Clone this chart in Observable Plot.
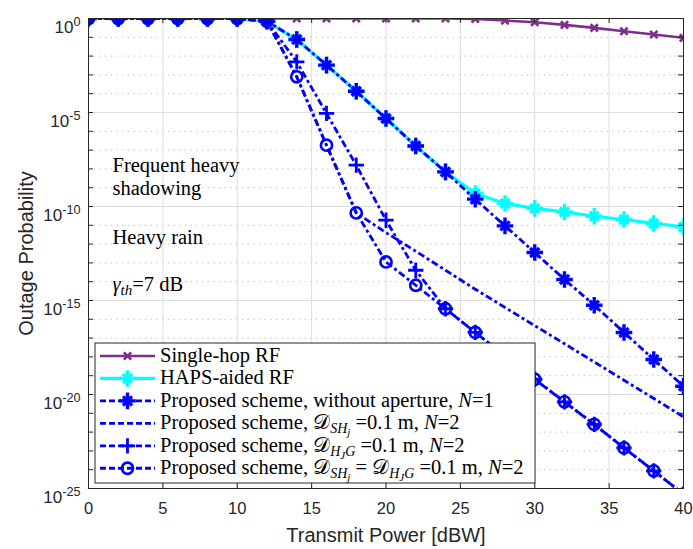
<!DOCTYPE html>
<html><head><meta charset="utf-8">
<script src="https://cdn.jsdelivr.net/npm/d3@7"></script>
<script src="https://cdn.jsdelivr.net/npm/@observablehq/plot@0.6"></script>
<style>body{margin:0;background:#fff}</style>
</head><body><div id="chart"></div>
<script>
// ---- data (log10 of outage probability) ----
const power = [0,2,4,6,8,10,12,14,16,18,20,22,24,26,28,30,32,34,36,38,40];
const singleHopRF  = [0,0,0,0,0,0,0,0,0,0,0,0,0,-0.02,-0.11,-0.2,-0.34,-0.5,-0.68,-0.85,-1.03];
const hapsAidedRF  = [0,0,0,0,0,0,-0.15,-1.12,-2.48,-3.87,-5.32,-6.78,-8.16,-9.31,-9.84,-10.1,-10.29,-10.52,-10.69,-10.9,-11.08];
const propN1       = [0,0,0,0,0,0,-0.15,-1.12,-2.48,-3.87,-5.32,-6.78,-8.16,-9.61,-11.03,-12.45,-13.88,-15.25,-16.7,-18.14,-19.56];
const propDSH      = [0,0,0,0,0,0,-0.15,-3.1,-6.74,-10.34,-11.39,-12.38,-13.39,-14.4,-15.37,-16.34,-17.3,-18.27,-19.24,-20.21,-21.19];
const propDHG      = [0,0,0,0,0,0,-0.15,-2.31,-5.05,-7.8,-10.73,-13.39,-15.44,-16.7,-17.94,-19.19,-20.39,-21.59,-22.84,-24.06,-25.3];
const propBoth     = [0,0,0,0,0,0,-0.15,-3.1,-6.74,-10.34,-12.95,-14.19,-15.44,-16.7,-17.94,-19.19,-20.39,-21.59,-22.84,-24.06,-25.3];

const xTicks = [0,5,10,15,20,25,30,35,40];
const yMajorExp = [0,-5,-10,-15,-20,-25];
const yAllExp = d3.range(0,-26,-1);

const xTitle = "Transmit Power [dBW]";
const yTitle = "Outage Probability";
const notes = ["Frequent heavy","shadowing","Heavy rain"];

// legend label pieces: [text, style]
const legendLabels = [
  [["Single-hop RF"]],
  [["HAPS-aided RF"]],
  [["Proposed scheme, without aperture, "],["N","i"],["=1"]],
  [["Proposed scheme, "],["𝒟","n"],["SH","sub"],["j","subsub"],[" =0.1 m, "],["N","i"],["=2"]],
  [["Proposed scheme, "],["𝒟","n"],["H","sub"],["J","subsub"],["G","sub"],[" =0.1 m, "],["N","i"],["=2"]],
  [["Proposed scheme, "],["𝒟","n"],["SH","sub"],["j","subsub"],[" = "],["𝒟","n"],["H","sub"],["J","subsub"],["G","sub"],[" =0.1 m, "],["N","i"],["=2"]]
];

// ---- styles ----
const BLUE = "#0000ff", PURPLE = "#7e2f8e", CYAN = "#00ffff";
const DASH = "7,3,3,3";
const series = [
  {vals: singleHopRF, color: PURPLE, width: 2.6, dash: null, marker: "times"},
  {vals: hapsAidedRF, color: CYAN, width: 3.2, dash: null, marker: "asterisk"},
  {vals: propN1, color: BLUE, width: 2.8, dash: DASH, marker: "asterisk"},
  {vals: propDSH, color: BLUE, width: 2.8, dash: DASH, marker: null},
  {vals: propDHG, color: BLUE, width: 2.8, dash: DASH, marker: "plus"},
  {vals: propBoth, color: BLUE, width: 2.8, dash: DASH, marker: "circle"}
];
const rowsOf = (vals) => power.map((p,i) => ({x: p, y: Math.pow(10, vals[i])}));

const MK = {
  times: [["times", 3.4, 2.6]],
  plus: [["plus", 5, 2.8]],
  circle: [["circle", 5.6, 2.6]],
  asterisk: [["plus", 5.4, 3.4], ["times", 4.2, 3.4]]
};

const dataMarks = [];
for (const s of series) {
  const rows = rowsOf(s.vals);
  dataMarks.push(Plot.line(rows, {x: "x", y: "y", stroke: s.color, strokeWidth: s.width,
    strokeDasharray: s.dash, strokeLinecap: "butt", clip: true, strokeLinejoin: "round"}));
  if (s.marker) for (const [sym, r, w] of MK[s.marker])
    dataMarks.push(Plot.dot(rows, {x: "x", y: "y", stroke: s.color, fill: "none", clip: true, symbol: sym, r, strokeWidth: w}));
}

const FW = 693 - 88 - 10, FH = 549 - 18 - 61;
const chart = Plot.plot({
  width: 693, height: 549,
  marginLeft: 88, marginRight: 10, marginTop: 18, marginBottom: 61,
  style: {fontFamily: "'Liberation Sans', Arial, sans-serif", fontSize: "17px", color: "#262626", background: "#fff", overflow: "visible"},
  x: {domain: [0, 40]},
  y: {type: "log", domain: [1e-25, 1]},
  marks: [
    Plot.gridY(yAllExp.filter(e => e % 5 !== 0).map(e => Math.pow(10, e)), {stroke: "#b8b8b8", strokeOpacity: 1, strokeDasharray: "1.2,4.5"}),
    Plot.gridX(xTicks, {stroke: "#dddddd", strokeOpacity: 1}),
    Plot.gridY(yMajorExp.map(e => Math.pow(10, e)), {stroke: "#dddddd", strokeOpacity: 1}),
    ...dataMarks,
    Plot.frame({stroke: "#262626", strokeWidth: 1}),
    Plot.ruleX(xTicks, {stroke: "#262626", insetBottom: FH - 5}),
    Plot.ruleX(xTicks, {stroke: "#262626", insetTop: FH - 5}),
    Plot.ruleY(yAllExp.map(e => Math.pow(10, e)), {stroke: "#262626", insetRight: FW - 5}),
    Plot.ruleY(yAllExp.map(e => Math.pow(10, e)), {stroke: "#262626", insetLeft: FW - 5}),
    Plot.axisX(xTicks, {tickSize: 0, tickPadding: 14, label: null, fontSize: 16.5, fill: "#262626"}),
    Plot.axisY(yMajorExp.map(e => Math.pow(10, e)), {tickSize: 0, tickPadding: 8, label: null, fontSize: 17, fill: "#262626",
      tickFormat: d => "10^" + Math.round(Math.log10(d))}),
    Plot.text([xTitle], {text: d => d, frameAnchor: "bottom", lineAnchor: "middle", textAnchor: "middle", dy: 47, fontSize: 20, fill: "#262626"}),
    Plot.text([yTitle], {text: d => d, frameAnchor: "left", lineAnchor: "middle", textAnchor: "middle", dx: -62, rotate: -90, fontSize: 20, fill: "#262626"})
  ]
});
document.getElementById("chart").appendChild(chart);

const svg = d3.select(chart);
// superscripted y tick labels
svg.selectAll('g[aria-label="y-axis tick label"] text').each(function() {
  const t = d3.select(this);
  const parts = t.text().split("^");
  t.text("").attr("dy", "0.54em");
  t.append("tspan").text(parts[0]);
  t.append("tspan").attr("dy", "-0.6em").attr("font-size", "12.7px").text(parts[1]);
});

const sx = chart.scale("x"), sy = chart.scale("y");
const SERIF = "'Liberation Serif', 'Times New Roman', serif";

// annotations (anchored in data coordinates)
const ann = svg.append("g").attr("font-family", SERIF).attr("font-size", 20.5).attr("fill", "#000").attr("text-anchor", "start");
const annX = sx.apply(1.65);
ann.append("text").attr("x", annX).attr("y", sy.apply(Math.pow(10, -8.19))).text(notes[0]);
ann.append("text").attr("x", annX).attr("y", sy.apply(Math.pow(10, -9.4))).text(notes[1]);
ann.append("text").attr("x", annX).attr("y", sy.apply(Math.pow(10, -12.01))).text(notes[2]);
const g4 = ann.append("text").attr("x", annX).attr("y", sy.apply(Math.pow(10, -14.54)));
g4.append("tspan").attr("font-style", "italic").text("γ");
g4.append("tspan").attr("font-style", "italic").attr("font-size", 15).attr("dy", 4).text("th");
g4.append("tspan").attr("dy", -4).text("=7 dB");

// legend
const LX = 95, LY = 343, LW = 440, LH = 140, ROW = 22.45, R0 = 356;
const lg = svg.append("g").attr("text-anchor", "start");
lg.append("rect").attr("x", LX).attr("y", LY).attr("width", LW).attr("height", LH)
  .attr("fill", "#fff").attr("stroke", "#262626").attr("stroke-width", 1);
const symMap = {times: d3.symbolTimes, plus: d3.symbolPlus, circle: d3.symbolCircle};
series.forEach((s, i) => {
  const cy = R0 + i * ROW;
  lg.append("line").attr("x1", 100).attr("x2", 155).attr("y1", cy).attr("y2", cy)
    .attr("stroke", s.color).attr("stroke-width", s.width).attr("stroke-dasharray", s.dash ? "6,3" : null);
  if (s.marker) for (const [sym, r, w] of MK[s.marker])
    lg.append("path").attr("d", d3.symbol(symMap[sym], Math.PI * r * r)())
      .attr("transform", `translate(127.5,${cy})`).attr("fill", "none").attr("stroke", s.color).attr("stroke-width", w);
  const t = lg.append("text").attr("x", 160).attr("y", cy + 6).attr("font-family", SERIF).attr("font-size", 20.5).attr("fill", "#000");
  let level = 0;
  const off = {sub: 4, subsub: 7};
  for (const [txt, st] of legendLabels[i]) {
    const target = off[st] || 0;
    const sp = t.append("tspan").text(txt);
    if (target !== level) sp.attr("dy", target - level);
    level = target;
    if (st === "i" || st === "sub" || st === "subsub") sp.attr("font-style", "italic");
    if (st === "sub") sp.attr("font-size", 14);
    if (st === "subsub") sp.attr("font-size", 11);
  }
});
</script>
</body></html>
